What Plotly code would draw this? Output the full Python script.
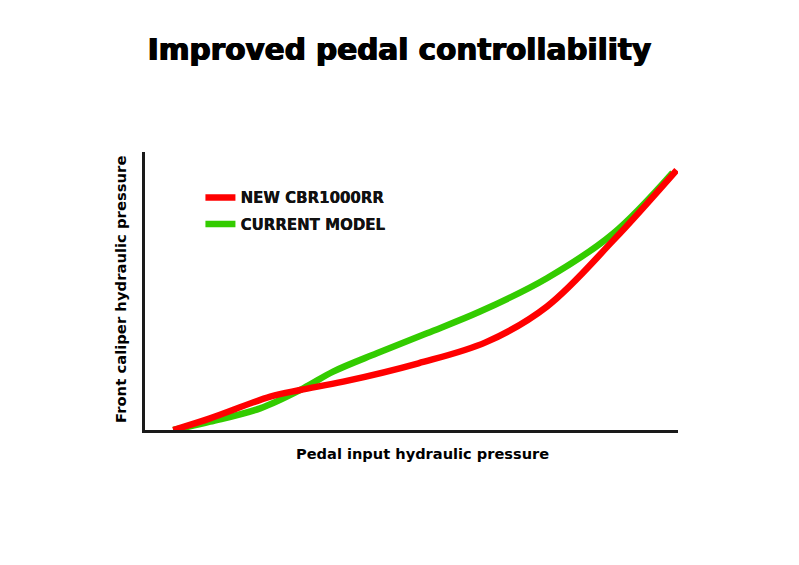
import plotly.graph_objects as go

new_x = [5.3, 12.2, 23.5, 29.1, 37.2, 51.3, 64.0, 75.4, 87.9, 99.75]
new_y = [0, 4.2, 12.0, 14.4, 17.4, 24.0, 31.6, 44.4, 68.3, 93.5]

cur_x = [5.3, 12.2, 21.6, 29.7, 35.3, 43.5, 52.9, 62.85, 75.4, 87.9, 99.0]
cur_y = [0, 3.0, 7.8, 15.0, 21.0, 27.6, 34.8, 42.6, 54.6, 70.8, 92.6]

FONT = "DejaVu Sans, Liberation Sans, Arial, sans-serif"

fig = go.Figure()
fig.add_trace(go.Scatter(x=cur_x, y=cur_y, mode="lines", name="<b>CURRENT MODEL</b>",
                         line=dict(color="#33cc00", width=6.5, shape="spline"),
                         legendrank=2, legendgroup="b"))
fig.add_trace(go.Scatter(x=new_x, y=new_y, mode="lines", name="<b>NEW CBR1000RR</b>",
                         line=dict(color="#ff0000", width=6.5, shape="spline"),
                         legendrank=1, legendgroup="a"))

fig.update_layout(
    width=799, height=565,
    margin=dict(l=145, r=121, t=152, b=135),
    paper_bgcolor="white", plot_bgcolor="white",
    title=dict(text="<b>Improved pedal controllability</b>", x=0.5, xanchor="center",
               y=1 - 50 / 565, yanchor="middle",
               font=dict(family=FONT, size=29.5, color="black",
                         shadow="0.7px 0 0 black, -0.7px 0 0 black")),
    xaxis=dict(range=[0, 100], showline=True, linecolor="#1a1a1a", linewidth=3,
               showgrid=False, zeroline=False, showticklabels=False, ticks=""),
    yaxis=dict(range=[0, 100], showline=True, linecolor="#1a1a1a", linewidth=3,
               showgrid=False, zeroline=False, showticklabels=False, ticks=""),
    legend=dict(x=0.104, y=0.895, xanchor="left", yanchor="top",
                bgcolor="rgba(0,0,0,0)", traceorder="grouped", tracegroupgap=4,
                font=dict(family=FONT, size=15, color="#111111",
                          shadow="0.3px 0 0 #111111")),
    showlegend=True,
)
fig.add_annotation(text="<b>Pedal input hydraulic pressure</b>",
                   x=(422 - 145) / 533, y=(430 - 453) / 278,
                   xref="paper", yref="paper", xanchor="center", yanchor="middle",
                   showarrow=False,
                   font=dict(family=FONT, size=14.6, color="black"))
fig.add_annotation(text="<b>Front caliper hydraulic pressure</b>", textangle=-90,
                   x=(120 - 145) / 533, y=(430 - 290) / 278, xref="paper", yref="paper",
                   xanchor="center", yanchor="middle", showarrow=False,
                   font=dict(family=FONT, size=14.8, color="black"))

fig.write_html("out.html")
